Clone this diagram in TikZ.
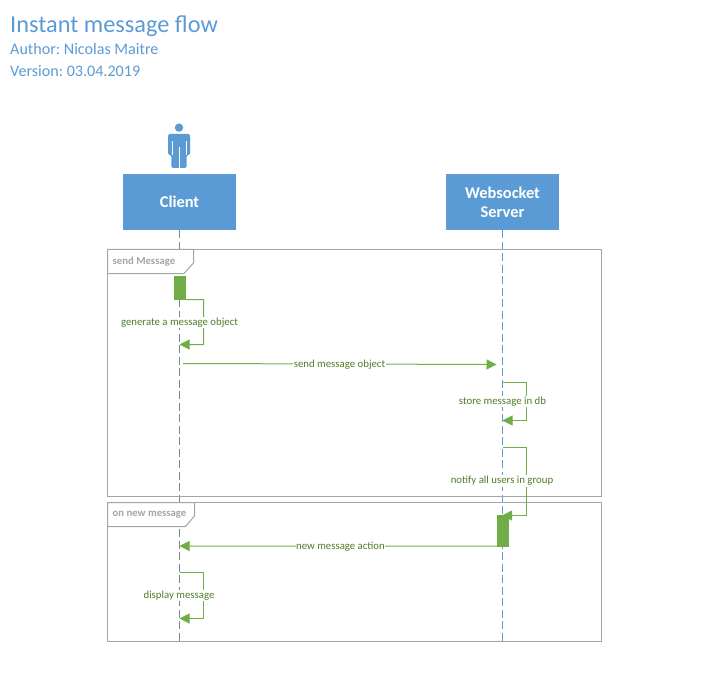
\documentclass[tikz,border=0pt]{standalone}
\usepackage{fontspec}
\setmainfont{Carlito}
\usetikzlibrary{arrows.meta}
\definecolor{umlblue}{HTML}{5B9BD5}
\definecolor{umlgreen}{HTML}{70AD47}
\definecolor{umltext}{HTML}{4F7D2A}
\definecolor{umlgray}{HTML}{A5A5A5}
\tikzset{
  actorbox/.style={draw=none,fill=umlblue,text=white,font=\fontsize{16.4}{18}\selectfont\bfseries,align=center,minimum width=113pt,minimum height=56pt,inner sep=0pt},
  lifeline/.style={draw=umlblue,line width=0.9pt,dash pattern=on 8pt off 3.5pt},
  lifelinegray/.style={draw=gray!70!umlblue,line width=0.9pt,dash pattern=on 8pt off 3.5pt},
  framebox/.style={draw=umlgray,line width=1pt},
  tabshape/.style={draw=umlgray,fill=white,line width=1pt},
  tablabel/.style={text=umlgray,font=\fontsize{10.7}{12}\selectfont\bfseries,anchor=west,inner sep=0pt},
  msg/.style={draw=umlgreen,line width=1pt,-{Triangle[length=10pt,width=10pt,fill=umlgreen]}},
  msglabel/.style={text=umltext,fill=white,font=\fontsize{10.8}{13}\selectfont,inner xsep=0.5pt,inner ysep=1pt},
  activation/.style={fill=umlgreen,draw=none,minimum width=12pt,inner sep=0pt},
  headline/.style={text=umlblue,anchor=west,inner sep=0pt},
}
\begin{document}
\frenchspacing
\begin{tikzpicture}[x=1pt,y=-1pt]
\useasboundingbox (0,0) rectangle (708,692);
% titles
\node[headline,font=\fontsize{24.3}{28}\selectfont] (title) at (10,26) {Instant message flow};
\node[headline,font=\fontsize{16.1}{19}\selectfont] (author) at (10,49) {Author: Nicolas Maitre};
\node[headline,font=\fontsize{16.1}{19}\selectfont] (version) at (10,71) {Version: 03.04.2019};
% actor icon
\fill[umlblue] (179,127.6) circle (4.2);
\fill[umlblue,rounded corners=1.5pt] (168,155) -- (168,134) -- (190,134) -- (190,155) -- (186.6,155) -- (186.6,168) -- (171.4,168) -- (171.4,155) -- cycle;
\draw[white,line width=0.5pt] (172.2,141) -- (172.2,155) (186,141) -- (186,155) (179,147) -- (179,168);
% actors
\node[actorbox] (client) at (179.5,202) {Client};
\node[actorbox] (server) at (502.5,202) {Websocket\\[1pt]Server};
\coordinate (clientend) at (179.5,641);
\coordinate (serverend) at (502.5,641);
% lifelines
\draw[lifelinegray] (client.south) -- (clientend);
\draw[lifeline] (server.south) -- (serverend);
% frames
\draw[framebox] (107.5,249.5) rectangle (601.5,496.5);
\draw[framebox] (107.5,502.5) rectangle (601.5,641.5);
\draw[tabshape] (107.5,249.5) -- (193.5,249.5) -- (193.5,263) -- (184,273.5) -- (107.5,273.5) -- cycle;
\draw[tabshape] (107.5,502.5) -- (194.5,502.5) -- (194.5,516) -- (185.5,526.5) -- (107.5,526.5) -- cycle;
\node[tablabel] (tabsend) at (112.5,261.5) {send Message};
\node[tablabel] (tabnew) at (112.5,514.5) {on new message};
% activations
\node[activation,minimum height=23.5pt] (actclient) at (180,287.75) {};
\node[activation,minimum height=31.5pt] (actserver) at (503,530.75) {};
% messages
\coordinate (l1a) at (203.5,299.5);
\coordinate (l1b) at (203.5,344.5);
\coordinate (l1e) at (179.5,344.5);
\draw[msg] (actclient.south east) -- (l1a) -- (l1b) -- (l1e);
\node[msglabel] (generate) at (179.5,322.5) {generate a message object};
\coordinate (m1s) at (183,363.5);
\coordinate (m1e) at (496.5,364.5);
\draw[msg] (m1s) -- (m1e);
\node[msglabel] (send) at (339.5,364.5) {send message object};
\coordinate (l2s) at (503,382.5);
\coordinate (l2a) at (526.5,382.5);
\coordinate (l2b) at (526.5,420.5);
\coordinate (l2e) at (502.5,420.5);
\draw[msg] (l2s) -- (l2a) -- (l2b) -- (l2e);
\node[msglabel] (store) at (502.5,401.5) {store message in db};
\coordinate (l3s) at (503,447.5);
\coordinate (l3a) at (526.5,447.5);
\coordinate (l3b) at (526.5,515.5);
\coordinate (l3e) at (502,515.5);
\draw[msg] (l3s) -- (l3a) -- (l3b) -- (l3e);
\node[msglabel] (notify) at (502,481) {notify all users in group};
\coordinate (m2e) at (179.5,546);
\draw[msg] (actserver.south west) ++(0,-0.5) -- (m2e);
\node[msglabel] (newmsg) at (340.5,546.5) {new message action};
\coordinate (l4s) at (179.5,572.5);
\coordinate (l4a) at (203.5,572.5);
\coordinate (l4b) at (203.5,618.5);
\coordinate (l4e) at (179.5,618.5);
\draw[msg] (l4s) -- (l4a) -- (l4b) -- (l4e);
\node[msglabel] (display) at (179,595.5) {display message};
\end{tikzpicture}
\end{document}
